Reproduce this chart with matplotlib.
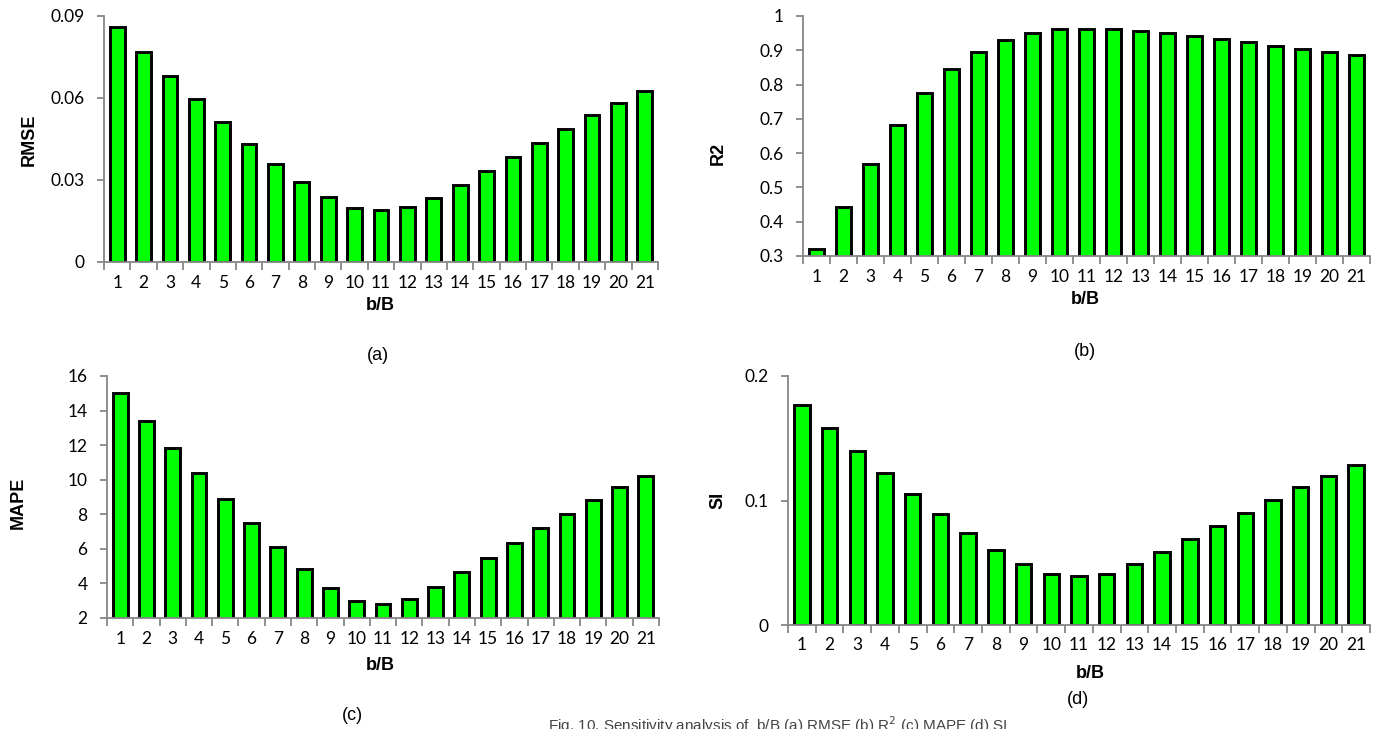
import matplotlib
matplotlib.use("Agg")
import matplotlib.pyplot as plt
import numpy as np

categories = list(range(1, 22))
rmse = [0.086, 0.0768, 0.0679, 0.0595, 0.0512, 0.0433, 0.036, 0.0293, 0.0238, 0.0198, 0.0191,
        0.020, 0.0235, 0.0283, 0.0333, 0.0384, 0.0437, 0.0488, 0.0537, 0.0583, 0.0626]
r2 = [0.321, 0.444, 0.568, 0.681, 0.774, 0.846, 0.896, 0.931, 0.951, 0.961, 0.961,
      0.961, 0.957, 0.950, 0.941, 0.932, 0.923, 0.913, 0.903, 0.896, 0.887]
mape = [14.99, 13.41, 11.85, 10.36, 8.89, 7.48, 6.11, 4.83, 3.74, 2.98, 2.81,
        3.08, 3.80, 4.66, 5.49, 6.34, 7.19, 8.04, 8.83, 9.57, 10.24]
si = [0.1766, 0.158, 0.1399, 0.1221, 0.1052, 0.0894, 0.0741, 0.0601, 0.0489, 0.0408, 0.0392,
      0.0411, 0.0489, 0.0583, 0.0687, 0.0795, 0.0902, 0.1004, 0.1106, 0.120, 0.1289]

rmse_ticks = [0, 0.03, 0.06, 0.09]
rmse_ticklabels = ["0", "0.03", "0.06", "0.09"]
r2_ticks = [0.3, 0.4, 0.5, 0.6, 0.7, 0.8, 0.9, 1.0]
r2_ticklabels = ["0.3", "0.4", "0.5", "0.6", "0.7", "0.8", "0.9", "1"]
mape_ticks = [2, 4, 6, 8, 10, 12, 14, 16]
mape_ticklabels = ["2", "4", "6", "8", "10", "12", "14", "16"]
si_ticks = [0, 0.1, 0.2]
si_ticklabels = ["0", "0.1", "0.2"]

W, H = 1375, 729
fig = plt.figure(figsize=(W / 100, H / 100), dpi=100)

GRAY = "#868686"
GREEN = "#00ff00"
TICKFONT = "Lato"
LABELFONT = "Liberation Sans"


def px_axes(l, r, t, b):
    return fig.add_axes([l / W, 1 - b / H, (r - l) / W, (b - t) / H])


def panel(rect, vals, ticks, ticklabels, ylim, ylabel, ylab_xy, xlab_xy, tag, tag_xy):
    ax = px_axes(*rect)
    ax.bar(categories, vals, width=0.56, color=GREEN, edgecolor="black", linewidth=2.1, zorder=3)
    ax.set_xlim(0.5, 21.5)
    ax.set_ylim(*ylim)
    for s in ["top", "right"]:
        ax.spines[s].set_visible(False)
    for s in ["left", "bottom"]:
        ax.spines[s].set_color(GRAY)
        ax.spines[s].set_linewidth(1.3)
        ax.spines[s].set_zorder(4)
    ax.set_xticks(categories)
    ax.set_xticklabels([str(c) for c in categories], fontfamily=TICKFONT, fontsize=12.5)
    ax.set_xticks(np.arange(0.5, 22, 1.0), minor=True)
    ax.tick_params(axis="x", which="major", length=0, pad=9)
    ax.tick_params(axis="x", which="minor", length=6, color=GRAY, width=1.3, direction="out")
    ax.set_yticks(ticks)
    ax.set_yticklabels(ticklabels, fontfamily=TICKFONT, fontsize=12.5)
    ax.tick_params(axis="y", length=5, color=GRAY, width=1.3, direction="out", pad=9)
    fig.text(ylab_xy[0] / W, 1 - ylab_xy[1] / H, ylabel, rotation=90, ha="center", va="center",
             fontfamily=LABELFONT, fontweight="bold", fontsize=13)
    fig.text(xlab_xy[0] / W, 1 - xlab_xy[1] / H, "b/B", ha="center", va="center",
             fontfamily=LABELFONT, fontweight="bold", fontsize=13)
    fig.text(tag_xy[0] / W, 1 - tag_xy[1] / H, tag, ha="center", va="center",
             fontfamily=LABELFONT, fontsize=13)
    return ax


panel((104, 658, 16, 262), rmse, rmse_ticks, rmse_ticklabels, (0, 0.09), "RMSE",
      (29, 140), (380, 305), "(a)", (378, 355))
panel((803, 1370, 16, 256), r2, r2_ticks, r2_ticklabels, (0.3, 1.0), "R2",
      (718, 153), (1085, 300), "(b)", (1085, 352))
panel((107, 659, 376, 618), mape, mape_ticks, mape_ticklabels, (2, 16), "MAPE",
      (18, 503), (380, 665), "(c)", (352, 715))
panel((788, 1370, 376, 625), si, si_ticks, si_ticklabels, (0, 0.2), "SI",
      (718, 500), (1090, 673), "(d)", (1078, 700))

fig.text(548 / W, 1 - 725 / H, "Fig. 10. Sensitivity analysis of  b/B (a) RMSE (b) R$^2$ (c) MAPE (d) SI",
         ha="left", va="center", fontfamily=LABELFONT, fontsize=11, color="#444444")

fig.savefig("out.png", dpi=100)
